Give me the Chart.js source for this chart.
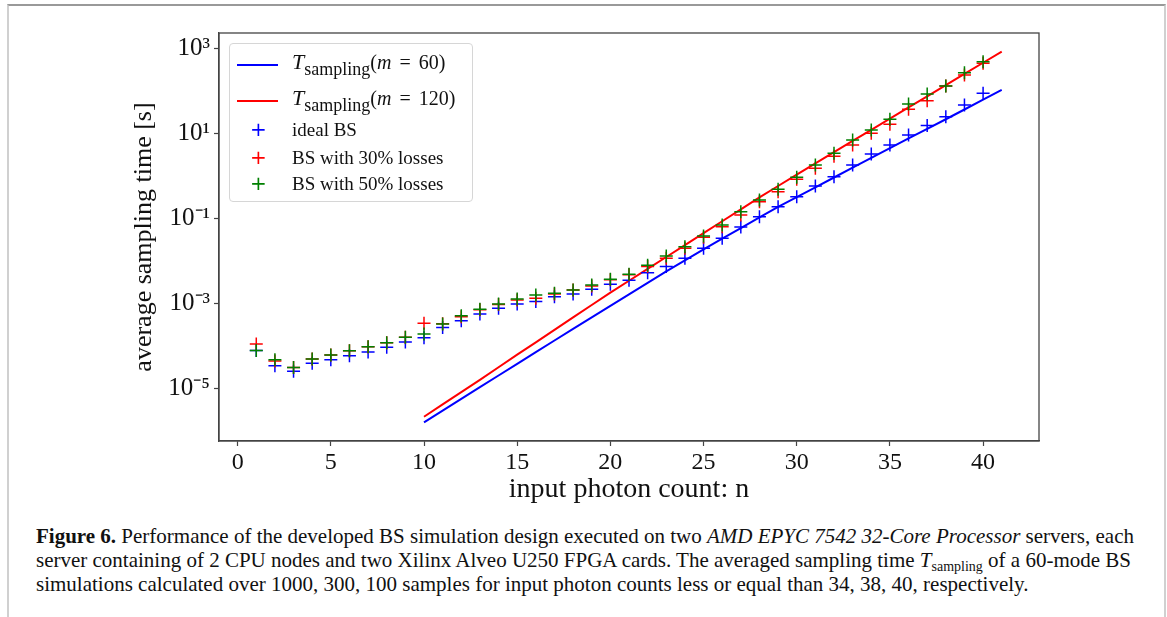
<!DOCTYPE html>
<html lang="en">

<head>
    <meta charset="UTF-8">
    <title>Figure 6 - average sampling time</title>
    <script src="https://cdn.jsdelivr.net/npm/chart.js"></script>
    <style>
        body {
            margin: 0;
            background: #fff;
            width: 1167px;
            height: 617px;
            overflow: hidden;
            font-family: "Liberation Serif", serif;
        }

        .page {
            position: absolute;
            left: 7px;
            top: 4px;
            width: 1155px;
            height: 640px;
            border-top: 2px solid #999;
            border-left: 2px solid #d0d0d0;
            border-right: 2px solid #d0d0d0;
        }

        .grafico {
            position: absolute;
            left: 0;
            top: 0;
            width: 1167px;
            height: 510px;
        }

        .legenda {
            position: absolute;
            left: 229px;
            top: 43px;
            width: 242px;
            height: 157px;
            border: 1px solid #d6d6d6;
            border-radius: 4px;
            background: rgba(255, 255, 255, 0.85);
            font-size: 19px;
            color: #111;
        }

        .item {
            position: absolute;
            left: 62px;
            white-space: nowrap;
            line-height: 20px;
        }

        .traco {
            position: absolute;
            left: 7px;
            width: 41px;
            height: 2px;
        }

        .mais {
            position: absolute;
            left: 20px;
            width: 14px;
            text-align: center;
            font-family: "DejaVu Sans", sans-serif;
            font-size: 20px;
            line-height: 20px;
        }

        .item i.grande {
            font-size: 22px;
        }

        .item sub {
            font-size: 18px;
            line-height: 0;
            vertical-align: -6px;
        }

        .item .arg {
            font-size: 20px;
            word-spacing: 3px;
        }

        .legenda-caption {
            position: absolute;
            left: 36px;
            top: 524px;
            font-size: 21px;
            line-height: 24px;
            color: #111;
            white-space: nowrap;
        }

        .legenda-caption sub {
            font-size: 14px;
            line-height: 0;
            vertical-align: -4px;
        }
    </style>
</head>

<body>
    <div class="page"></div>

    <div class="grafico">
        <canvas id="grafico"></canvas>
    </div>

    <div class="legenda">
        <div class="traco" style="top: 20px; background: #0000ff;"></div>
        <div class="item" style="top: 8px;"><i class="grande">T</i><sub>sampling</sub><span class="arg">(<i>m</i> = 60)</span></div>

        <div class="traco" style="top: 56px; background: #ff0000;"></div>
        <div class="item" style="top: 44px;"><i class="grande">T</i><sub>sampling</sub><span class="arg">(<i>m</i> = 120)</span></div>

        <div class="mais" style="top: 75px; color: #0000ff;">+</div>
        <div class="item" style="top: 76px;">ideal BS</div>

        <div class="mais" style="top: 103px; color: #ff0000;">+</div>
        <div class="item" style="top: 104px;">BS with 30% losses</div>

        <div class="mais" style="top: 129px; color: #008000;">+</div>
        <div class="item" style="top: 130px;">BS with 50% losses</div>
    </div>

    <div class="legenda-caption">
        <b>Figure 6.</b> Performance of the developed BS simulation design executed on two <i>AMD EPYC 7542 32-Core Processor</i> servers, each<br>
        server containing of 2 CPU nodes and two Xilinx Alveo U250 FPGA cards. The averaged sampling time <i>T</i><sub>sampling</sub> of a 60-mode BS<br>
        simulations calculated over 1000, 300, 100 samples for input photon counts less or equal than 34, 38, 40, respectively.
    </div>
</body>

</html>

<script>

    // valores
    const photonCounts = [1, 2, 3, 4, 5, 6, 7, 8, 9, 10, 11, 12, 13, 14, 15, 16, 17, 18, 19, 20,
        21, 22, 23, 24, 25, 26, 27, 28, 29, 30, 31, 32, 33, 34, 35, 36, 37, 38, 39, 40];

    const idealBS = [7.7e-5, 3.4e-5, 2.5e-5, 3.9e-5, 4.7e-5, 5.8e-5, 7.1e-5, 9.2e-5, 1.23e-4, 1.55e-4,
        2.7e-4, 3.9e-4, 5.6e-4, 7.6e-4, 9.6e-4, 1.1e-3, 1.43e-3, 1.66e-3, 2.14e-3, 2.8e-3,
        3.5e-3, 5.2e-3, 7.3e-3, 0.0115, 0.0197, 0.034, 0.062, 0.109, 0.187, 0.32,
        0.575, 0.95, 1.8, 3.26, 5.3, 9.1, 15.2, 24.5, 46, 87];

    const losses30 = [1.1e-4, 4.4e-5, 3.1e-5, 4.9e-5, 6.1e-5, 7.6e-5, 9.5e-5, 1.18e-4, 1.58e-4, 3.4e-4,
        3.3e-4, 4.8e-4, 7.0e-4, 9.4e-4, 1.2e-3, 1.31e-3, 1.66e-3, 2.06e-3, 2.55e-3, 3.6e-3,
        4.7e-3, 7.3e-3, 0.0115, 0.0197, 0.0357, 0.0634, 0.12, 0.246, 0.42, 0.83,
        1.5, 2.9, 5.3, 10, 16.3, 36.7, 58, 130, 235, 444];

    const losses50 = [7.7e-5, 4.7e-5, 3.1e-5, 4.9e-5, 6.1e-5, 7.6e-5, 9.5e-5, 1.18e-4, 1.58e-4, 1.9e-4,
        3.26e-4, 5.1e-4, 7.2e-4, 9.6e-4, 1.26e-3, 1.57e-3, 1.72e-3, 2.06e-3, 2.7e-3, 3.7e-3,
        4.8e-3, 7.9e-3, 0.013, 0.0215, 0.0384, 0.0695, 0.143, 0.27, 0.48, 0.92,
        1.8, 3.4, 6.95, 12, 21.4, 49, 84, 130, 267, 484];

    const lineCounts = [10, 11, 12, 13, 14, 15, 16, 17, 18, 19, 20, 21, 22, 23, 24, 25,
        26, 27, 28, 29, 30, 31, 32, 33, 34, 35, 36, 37, 38, 39, 40, 41];

    const tSampling60 = [1.58e-6, 2.99e-6, 5.62e-6, 1.06e-5, 2.0e-5, 3.76e-5, 7.08e-5, 1.33e-4,
        2.51e-4, 4.68e-4, 8.71e-4, 1.62e-3, 3.02e-3, 5.62e-3, 1.02e-2, 1.86e-2,
        3.31e-2, 5.89e-2, 0.105, 0.186, 0.316, 0.537, 0.912, 1.55,
        2.63, 4.47, 7.59, 12.7, 21.4, 36.3, 61.7, 105];

    const tSampling120 = [2.14e-6, 4.17e-6, 8.13e-6, 1.58e-5, 3.13e-5, 6.17e-5, 1.2e-4, 2.37e-4,
        4.68e-4, 9.12e-4, 1.78e-3, 3.39e-3, 6.46e-3, 1.23e-2, 2.34e-2, 4.47e-2,
        8.51e-2, 0.162, 0.309, 0.575, 1.06, 1.95, 3.59, 6.61,
        12.0, 22.1, 40.7, 74.1, 136, 251, 457, 832];

    const xTicks = [0, 5, 10, 15, 20, 25, 30, 35, 40];
    const yTicks = [1e-5, 1e-3, 1e-1, 1e1, 1e3];

    const sobrescrito = { '-': '⁻', '0': '⁰', '1': '¹', '2': '²', '3': '³', '4': '⁴', '5': '⁵', '6': '⁶', '7': '⁷', '8': '⁸', '9': '⁹' };

    function pares(xs, ys) {
        return xs.map((x, i) => ({ x: x, y: ys[i] }));
    }

    // moldura completa do eixo (topo e direita tambem)
    const moldura = {
        id: 'moldura',
        afterDraw(chart) {
            const { ctx, chartArea } = chart;
            ctx.save();
            ctx.strokeStyle = '#444';
            ctx.lineWidth = 1.3;
            ctx.strokeRect(chartArea.left, chartArea.top, chartArea.right - chartArea.left, chartArea.bottom - chartArea.top);
            ctx.restore();
        }
    };

    function pontos(label, valores, cor, ordem) {
        return {
            label: label,
            data: pares(photonCounts, valores),
            showLine: false,
            pointStyle: 'cross',
            pointRadius: 6.5,
            pointBorderWidth: 1.5,
            borderColor: cor,
            backgroundColor: cor,
            order: ordem
        };
    }

    function linha(label, valores, cor, ordem) {
        return {
            label: label,
            data: pares(lineCounts, valores),
            showLine: true,
            pointRadius: 0,
            borderWidth: 2,
            borderColor: cor,
            backgroundColor: cor,
            order: ordem
        };
    }

    const fonteTicks = { family: 'Liberation Serif', size: 24 };

    const config = {
        type: 'scatter',
        data: {
            datasets: [
                pontos('BS with 50% losses', losses50, '#008000', 0),
                pontos('BS with 30% losses', losses30, '#ff0000', 1),
                pontos('ideal BS', idealBS, '#0000ff', 2),
                linha('T_sampling(m = 120)', tSampling120, '#ff0000', 3),
                linha('T_sampling(m = 60)', tSampling60, '#0000ff', 4)
            ]
        },
        options: {
            responsive: true,
            maintainAspectRatio: false,
            animation: false,
            layout: {
                padding: { left: 125, top: 33, right: 128, bottom: 0 }
            },
            plugins: {
                legend: { display: false },
                tooltip: { enabled: false }
            },
            scales: {
                x: {
                    type: 'linear',
                    min: -1,
                    max: 43,
                    afterBuildTicks(scale) {
                        scale.ticks = xTicks.map(v => ({ value: v }));
                    },
                    afterFit(scale) {
                        scale.height = 69;
                    },
                    grid: { drawOnChartArea: false, tickLength: 5, color: '#444', tickWidth: 1.2 },
                    border: { color: '#444', width: 1.3 },
                    ticks: { color: '#111', font: fonteTicks, padding: 2, maxRotation: 0 },
                    title: { display: true, text: 'input photon count: n', color: '#111', font: { family: 'Liberation Serif', size: 28 } }
                },
                y: {
                    type: 'logarithmic',
                    min: 5.75e-7,
                    max: 2290,
                    afterBuildTicks(scale) {
                        scale.ticks = yTicks.map(v => ({ value: v }));
                    },
                    afterFit(scale) {
                        scale.width = 94;
                    },
                    grid: { drawOnChartArea: false, tickLength: 5, color: '#444', tickWidth: 1.2 },
                    border: { color: '#444', width: 1.3 },
                    ticks: {
                        color: '#111',
                        font: { family: 'Liberation Serif', size: 25 },
                        padding: 4,
                        callback: function (value) {
                            const exp = String(Math.round(Math.log10(value)));
                            return '10' + exp.split('').map(c => sobrescrito[c]).join('');
                        }
                    },
                    title: { display: true, text: 'average sampling time [s]', color: '#111', font: { family: 'Liberation Serif', size: 26 } }
                }
            }
        },
        plugins: [moldura]
    };

    let myChart = new Chart(
        document.getElementById('grafico'),
        config
    );

</script>
